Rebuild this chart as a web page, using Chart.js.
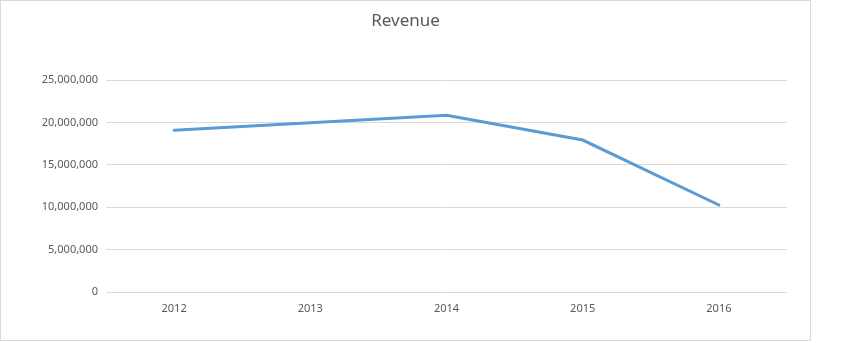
<!DOCTYPE html>
<html>
<head>
<meta charset="utf-8">
<script src="https://cdn.jsdelivr.net/npm/chart.js@4/dist/chart.umd.min.js"></script>
<style>
  html, body { margin: 0; padding: 0; background: #ffffff; }
  #frame {
    position: absolute; left: 0; top: 0;
    width: 811px; height: 341px;
    box-sizing: border-box;
    border: 1px solid #d9d9d9;
  }
  #chart { position: absolute; left: 0; top: 0; }
</style>
</head>
<body>
<div id="frame"></div>
<canvas id="chart" width="811" height="341"></canvas>
<script>
// Revenue by year
const years = ['2012', '2013', '2014', '2015', '2016'];
const revenue = [19070000, 19960000, 20850000, 17920000, 10260000];
const yTicks = [0, 5000000, 10000000, 15000000, 20000000, 25000000];
const chartTitle = 'Revenue';

const textColor = '#595959';
const gridColor = '#d9d9d9';
const fontFamily = '"Noto Sans", "Liberation Sans", sans-serif';

// Title centred across the whole canvas (not just the padded layout box)
const centeredTitle = {
  id: 'centeredTitle',
  afterDraw(chart) {
    const ctx = chart.ctx;
    ctx.save();
    ctx.fillStyle = textColor;
    ctx.font = '17px ' + fontFamily;
    ctx.textAlign = 'center';
    ctx.textBaseline = 'middle';
    ctx.fillText(chartTitle, chart.width / 2, 21.5);
    ctx.restore();
  }
};

new Chart(document.getElementById('chart'), {
  type: 'line',
  data: {
    labels: years,
    datasets: [{
      label: chartTitle,
      data: revenue,
      borderColor: '#5B9BD5',
      backgroundColor: '#5B9BD5',
      borderWidth: 3,
      tension: 0,
      pointRadius: 0,
      borderCapStyle: 'round',
      borderJoinStyle: 'miter',
      fill: false
    }]
  },
  plugins: [centeredTitle],
  options: {
    responsive: false,
    animation: false,
    layout: { padding: { left: 0, right: 24, top: 80, bottom: 0 } },
    plugins: {
      legend: { display: false },
      tooltip: { enabled: false },
      title: { display: false }
    },
    scales: {
      x: {
        offset: true,
        grid: { display: false, drawTicks: false },
        border: { display: false },
        ticks: {
          color: textColor,
          font: { family: fontFamily, size: 11 },
          padding: 10,
          maxRotation: 0
        },
        afterFit(scale) { scale.height = 49; }
      },
      y: {
        min: 0,
        max: 25000000,
        grid: { color: gridColor, lineWidth: 1, drawTicks: false },
        border: { display: false },
        afterBuildTicks(scale) { scale.ticks = yTicks.map(v => ({ value: v })); },
        ticks: {
          color: textColor,
          font: { family: fontFamily, size: 11 },
          padding: 8,
          callback: v => v.toLocaleString('en-US')
        },
        afterFit(scale) { scale.width = 106; }
      }
    }
  }
});
</script>
</body>
</html>
